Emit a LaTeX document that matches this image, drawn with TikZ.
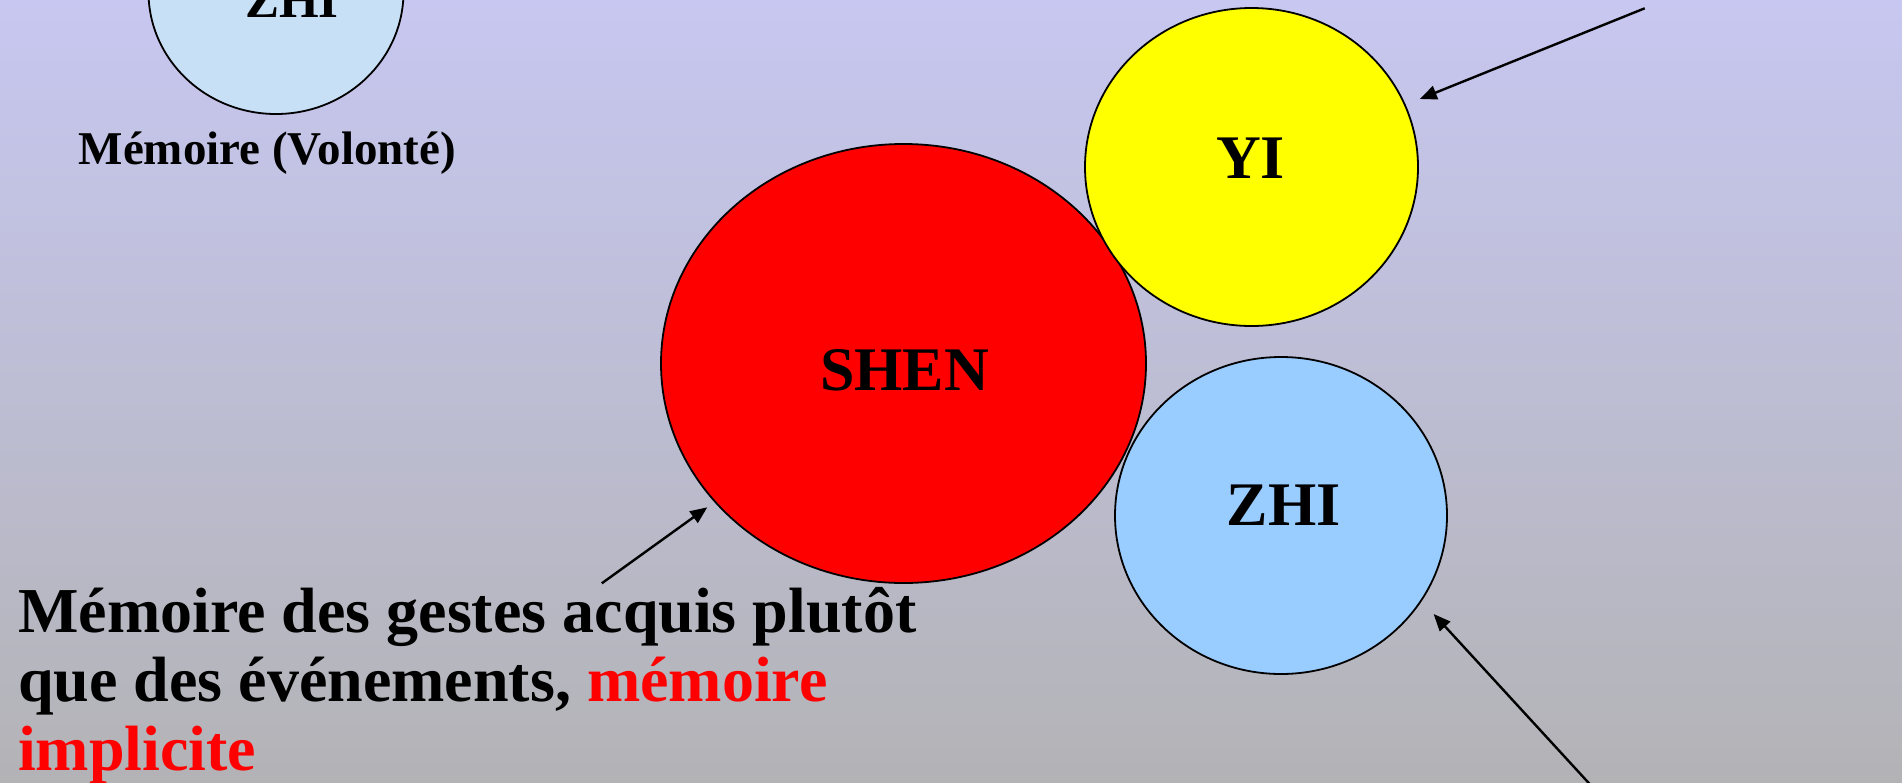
\documentclass[tikz,border=0pt]{standalone}
\usepackage{fontspec}
\setmainfont{Liberation Serif}
\usetikzlibrary{shapes.geometric,arrows.meta}
\definecolor{bgtop}{RGB}{199,199,241}
\definecolor{bgbot}{RGB}{179,179,182}
\definecolor{zhiblue}{RGB}{153,204,255}
\definecolor{zhipale}{RGB}{200,224,246}
\definecolor{shenred}{RGB}{255,0,0}
\definecolor{yiyellow}{RGB}{255,255,0}
\begin{document}
\begin{tikzpicture}[x=1pt,y=-1pt,
  bubble/.style={ellipse, draw=black, line width=1.8pt, inner sep=0pt},
  lbl/.style={inner sep=0pt, font=\fontsize{62}{70}\selectfont\bfseries},
  arr/.style={line width=2.4pt, -{Triangle[length=17pt,width=14pt]}}]
\useasboundingbox (0,0) rectangle (1902,782);
\clip (0,0) rectangle (1902,782);
\shade[top color=bgtop, bottom color=bgbot] (0,0) rectangle (1902,782);
% ellipses
\node[bubble, fill=zhipale, minimum width=255pt, minimum height=244pt] (zhismall) at (276,-8) {};
\node[bubble, fill=shenred, minimum width=485pt, minimum height=439pt] (shen) at (903.5,363.5) {};
\node[bubble, fill=yiyellow, minimum width=333pt, minimum height=318pt] (yi) at (1251.5,167) {};
\node[bubble, fill=zhiblue, minimum width=332pt, minimum height=317pt] (zhi) at (1281,515.5) {};
% labels in ellipses
\node[lbl, font=\fontsize{51}{60}\selectfont\bfseries, anchor=base] (zhismallt) at (292,17) {ZHI};
\node[lbl, anchor=base] (shent) at (904.5,390) {SHEN};
\node[lbl, anchor=base] (yit) at (1250.5,178) {YI};
\node[lbl, anchor=base] (zhit) at (1283.5,525) {ZHI};
% texts
\node[inner sep=0pt, anchor=base west, font=\fontsize{47}{54}\selectfont\bfseries] (volonte) at (78.5,164) {Mémoire (Volonté)};
\node[inner sep=0pt, anchor=north west, align=left, font=\fontsize{64}{69}\selectfont\bfseries] (gestes) at (18,587)
  {Mémoire des gestes acquis plutôt\\que des événements, \textcolor{red}{mémoire}\\\textcolor{red}{implicite}};
% arrows
\coordinate (a1s) at (1644.7,8.3);
\coordinate (a1e) at (1419.8,99);
\coordinate (a2s) at (601.8,583.3);
\coordinate (a2e) at (707.3,507.3);
\coordinate (a3s) at (1597,792);
\coordinate (a3e) at (1433.6,614);
\draw[arr] (a1s) -- (a1e);
\draw[arr] (a2s) -- (a2e);
\draw[arr] (a3s) -- (a3e);
\end{tikzpicture}
\end{document}
